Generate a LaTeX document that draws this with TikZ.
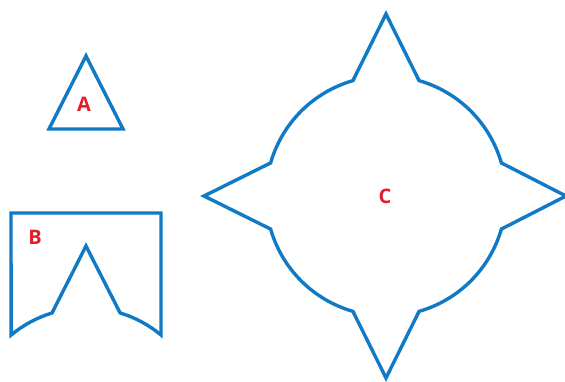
\documentclass[tikz,border=0pt]{standalone}
\usepackage{fontspec}
\newfontfamily\labfont{Open Sans}
\definecolor{shapeblue}{RGB}{16,122,198}
\definecolor{labred}{RGB}{226,30,42}
\tikzset{
  shapeline/.style={draw=shapeblue, line width=3.4pt, line join=miter},
  lab/.style={text=labred, font=\labfont\bfseries\fontsize{20}{24}\selectfont, inner sep=0pt}
}
\begin{document}
\begin{tikzpicture}[x=1pt,y=1pt]
\useasboundingbox (0,0) rectangle (565,381);
% A
\draw[shapeline] (86,325) -- (123,252) -- (49,252) -- cycle;
\node[lab] (la) at (84,277) {A};
% B
\draw[shapeline] (11,168) -- (161,168) -- (161,46)
  arc[start angle=50.2, end angle=73.1, radius=117pt] -- (86,135) -- (52,68)
  arc[start angle=106.9, end angle=129.8, radius=117pt] -- cycle;
\node[lab] (lb) at (35,144) {B};
% C
\draw[shapeline, shift={(386,185)}] (16:120pt)
  arc[start angle=16, end angle=74, radius=120pt] -- (90:182pt) -- (106:120pt)
  arc[start angle=106, end angle=164, radius=120pt] -- (180:182pt) -- (196:120pt)
  arc[start angle=196, end angle=254, radius=120pt] -- (270:182pt) -- (286:120pt)
  arc[start angle=286, end angle=344, radius=120pt] -- (0:180pt) -- cycle;
\node[lab] (lc) at (385,185) {C};
\end{tikzpicture}
\end{document}
